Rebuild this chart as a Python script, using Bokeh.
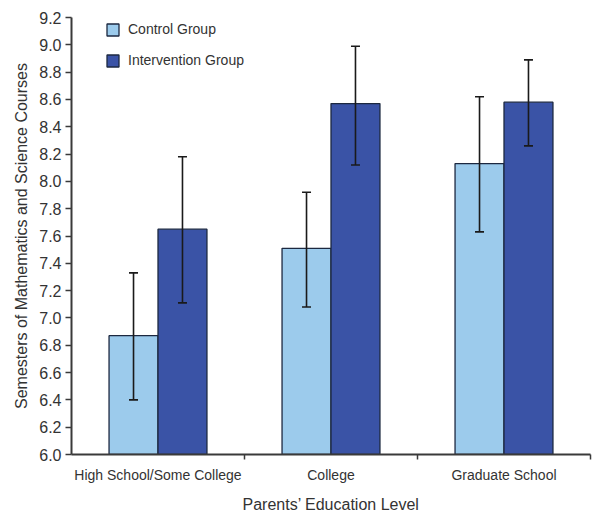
from bokeh.plotting import figure
from bokeh.models import (ColumnDataSource, Range1d, FixedTicker, Whisker, TeeHead,
                          Legend, LegendItem, PrintfTickFormatter)
from bokeh.embed import file_html
from bokeh.resources import INLINE

categories = ["High School/Some College", "College", "Graduate School"]
control = [6.87, 7.51, 8.13]
control_lo = [6.40, 7.08, 7.63]
control_hi = [7.33, 7.92, 8.62]
intervention = [7.65, 8.57, 8.58]
intervention_lo = [7.11, 8.12, 8.26]
intervention_hi = [8.18, 8.99, 8.89]
y_ticks = [6.0, 6.2, 6.4, 6.6, 6.8, 7.0, 7.2, 7.4, 7.6, 7.8, 8.0, 8.2, 8.4, 8.6, 8.8, 9.0, 9.2]

FONT = "Liberation Sans"
AX = "#3a3a3a"
LIGHT = "#9ccbec"
DARK = "#3a53a6"
EDGE = "#1c2840"
bar_w = 0.283

xc = [i + 0.5 for i in range(len(categories))]
src = ColumnDataSource(dict(
    xc=xc,
    x_ctrl=[c - bar_w / 2 for c in xc],
    x_int=[c + bar_w / 2 for c in xc],
    control=control, control_lo=control_lo, control_hi=control_hi,
    intervention=intervention, intervention_lo=intervention_lo, intervention_hi=intervention_hi,
))

p = figure(width=601, height=522, output_backend="svg", toolbar_location=None,
           x_range=Range1d(0, len(categories)), y_range=Range1d(6.0, 9.2))
p.min_border_left = 71
p.min_border_right = 11
p.min_border_top = 17
p.min_border_bottom = 68
p.outline_line_color = None
p.xgrid.visible = False
p.ygrid.visible = False

r1 = p.vbar(x="x_ctrl", top="control", bottom=6.0, width=bar_w, source=src,
            fill_color=LIGHT, line_color=EDGE, line_width=1.3)
r2 = p.vbar(x="x_int", top="intervention", bottom=6.0, width=bar_w, source=src,
            fill_color=DARK, line_color=EDGE, line_width=1.3)

for base, lo, hi in [("x_ctrl", "control_lo", "control_hi"), ("x_int", "intervention_lo", "intervention_hi")]:
    w = Whisker(source=src, base=base, lower=lo, upper=hi, dimension="height",
                line_color="#1a1a1a", line_width=1.6, level="overlay",
                upper_head=TeeHead(size=9, line_color="#1a1a1a", line_width=1.6),
                lower_head=TeeHead(size=9, line_color="#1a1a1a", line_width=1.6))
    p.add_layout(w)

# y axis
ya = p.yaxis[0]
ya.ticker = FixedTicker(ticks=y_ticks, minor_ticks=[])
ya.formatter = PrintfTickFormatter(format="%.1f")
ya.axis_line_color = AX
ya.axis_line_width = 2
ya.major_tick_line_color = AX
ya.major_tick_line_width = 1.5
ya.major_tick_out = 6
ya.major_tick_in = 0
ya.major_label_standoff = 4
ya.major_label_text_font = FONT
ya.major_label_text_font_size = "16px"
ya.major_label_text_color = "#333333"
ya.axis_label = "Semesters of Mathematics and Science Courses"
ya.axis_label_text_font = FONT
ya.axis_label_text_font_size = "16px"
ya.axis_label_text_font_style = "normal"
ya.axis_label_text_color = "#333333"
ya.axis_label_standoff = 6

# x axis
xa = p.xaxis[0]
xa.ticker = FixedTicker(ticks=xc, minor_ticks=[1, 2, 3])
xa.major_label_overrides = {float(c): lab for c, lab in zip(xc, categories)}
xa.axis_line_color = AX
xa.axis_line_width = 2
xa.major_tick_line_color = None
xa.minor_tick_line_color = AX
xa.minor_tick_line_width = 1.5
xa.minor_tick_out = 5
xa.minor_tick_in = 0
xa.major_tick_out = 5
xa.major_label_standoff = 7
xa.major_label_text_font = FONT
xa.major_label_text_font_size = "14px"
xa.major_label_text_color = "#333333"
xa.axis_label = "Parents\u2019 Education Level"
xa.axis_label_text_font = FONT
xa.axis_label_text_font_size = "16px"
xa.axis_label_text_font_style = "normal"
xa.axis_label_text_color = "#333333"
xa.axis_label_standoff = 10

legend = Legend(items=[LegendItem(label="Control Group", renderers=[r1]),
                       LegendItem(label="Intervention Group", renderers=[r2])],
                location=(34, 386))
legend.glyph_width = 15
legend.glyph_height = 15
legend.label_height = 15
legend.spacing = 15
legend.padding = 0
legend.margin = 0
legend.label_standoff = 8
legend.border_line_color = None
legend.background_fill_alpha = 0
legend.label_text_font = FONT
legend.label_text_font_size = "14px"
legend.label_text_color = "#333333"
p.add_layout(legend)

open("out.html", "w").write(file_html(p, INLINE))
